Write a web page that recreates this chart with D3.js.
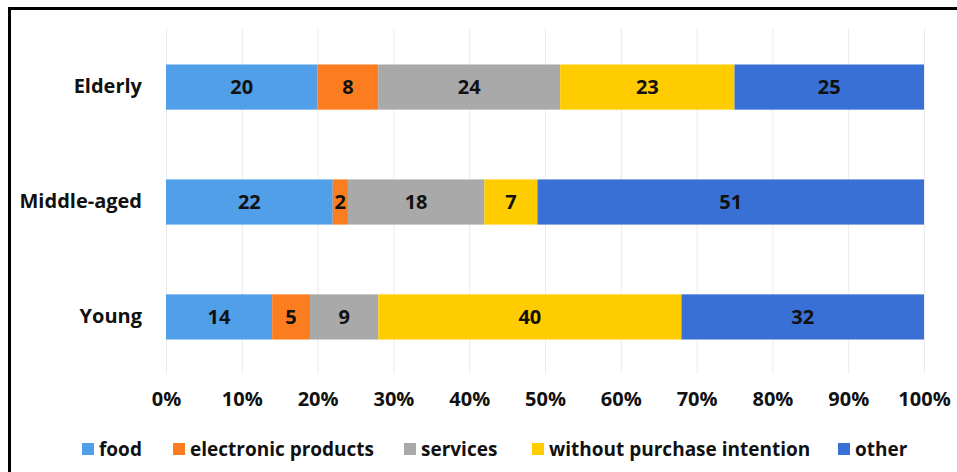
<!DOCTYPE html>
<html>
<head>
<meta charset="utf-8">
<script src="https://cdn.jsdelivr.net/npm/d3@7"></script>
<style>
  body { margin: 0; background: #fff; }
  svg { display: block; }
  text { font-family: "Open Sans", sans-serif; font-weight: 700; fill: #111; }
</style>
</head>
<body>
<script>
// age groups and the share of each purchase type (percent)
var groups = ["Elderly", "Middle-aged", "Young"];
var series = ["food", "electronic products", "services", "without purchase intention", "other"];
var food = [20, 22, 14];
var electronic = [8, 2, 5];
var services = [24, 18, 9];
var noIntention = [23, 7, 40];
var other = [25, 51, 32];
var ticks = [0, 10, 20, 30, 40, 50, 60, 70, 80, 90, 100];
var colors = ["#519fe9", "#fb7d1f", "#a9a9a9", "#ffcc00", "#3970d5"];

var width = 957, height = 472;

var svg = d3.select("body").append("svg")
    .attr("width", width)
    .attr("height", height);

// frame (top + left only, like the cropped screenshot)
svg.append("line").attr("x1", 8).attr("x2", width).attr("y1", 8.5).attr("y2", 8.5)
    .attr("stroke", "#000").attr("stroke-width", 3);
svg.append("line").attr("x1", 9.5).attr("x2", 9.5).attr("y1", 7).attr("y2", height)
    .attr("stroke", "#000").attr("stroke-width", 3);

var x = d3.scaleLinear().domain([0, 100]).range([166, 924]);
var y = d3.scaleBand().domain(groups).range([30, 374]).paddingInner(0.607).paddingOuter(0.3);

// gridlines
svg.append("g").selectAll("line")
    .data(ticks)
    .join("line")
    .attr("x1", d => x(d) + 0.5)
    .attr("x2", d => x(d) + 0.5)
    .attr("y1", 28)
    .attr("y2", 374)
    .attr("stroke", "#ececec")
    .attr("stroke-width", 1);

// x axis labels
var xAxis = d3.axisBottom(x).tickValues(ticks).tickFormat(d => d + "%").tickSize(0).tickPadding(0);
var gx = svg.append("g").attr("transform", "translate(0,392)").call(xAxis);
gx.select(".domain").remove();
gx.selectAll("text")
    .attr("font-size", 20)
    .attr("font-family", "'Open Sans', sans-serif")
    .attr("font-weight", 700)
    .attr("fill", "#111")
    .attr("dy", "0.71em");

// y labels
var yAxis = d3.axisLeft(y).tickSize(0).tickPadding(24);
var gy = svg.append("g").attr("transform", "translate(166,0)").call(yAxis);
gy.select(".domain").remove();
gy.selectAll("text")
    .attr("font-size", 20)
    .attr("font-family", "'Open Sans', sans-serif")
    .attr("font-weight", 700)
    .attr("fill", "#111");

// build stack input from the arrays
var rows = groups.map(function (g, i) {
    return {
        group: g,
        "food": food[i],
        "electronic products": electronic[i],
        "services": services[i],
        "without purchase intention": noIntention[i],
        "other": other[i]
    };
});
var stacked = d3.stack().keys(series)(rows);

var layers = svg.append("g").selectAll("g")
    .data(stacked)
    .join("g")
    .attr("fill", (d, i) => colors[i]);

layers.selectAll("rect")
    .data(d => d)
    .join("rect")
    .attr("x", d => x(d[0]))
    .attr("y", d => y(d.data.group))
    .attr("width", d => x(d[1]) - x(d[0]))
    .attr("height", y.bandwidth());

layers.selectAll("text")
    .data(d => d)
    .join("text")
    .attr("x", d => (x(d[0]) + x(d[1])) / 2)
    .attr("y", d => y(d.data.group) + y.bandwidth() / 2)
    .attr("dy", "0.36em")
    .attr("text-anchor", "middle")
    .attr("font-size", 20)
    .text(d => d[1] - d[0]);

// legend
var legendX = [82, 173, 404, 532, 838];
var legend = svg.append("g").selectAll("g")
    .data(series)
    .join("g")
    .attr("transform", (d, i) => "translate(" + legendX[i] + ",449)");

legend.append("rect")
    .attr("x", 0)
    .attr("y", -6)
    .attr("width", 12)
    .attr("height", 12)
    .attr("fill", (d, i) => colors[i]);

legend.append("text")
    .attr("x", 17)
    .attr("dy", "0.36em")
    .attr("font-size", 19)
    .text(d => d);
</script>
</body>
</html>
